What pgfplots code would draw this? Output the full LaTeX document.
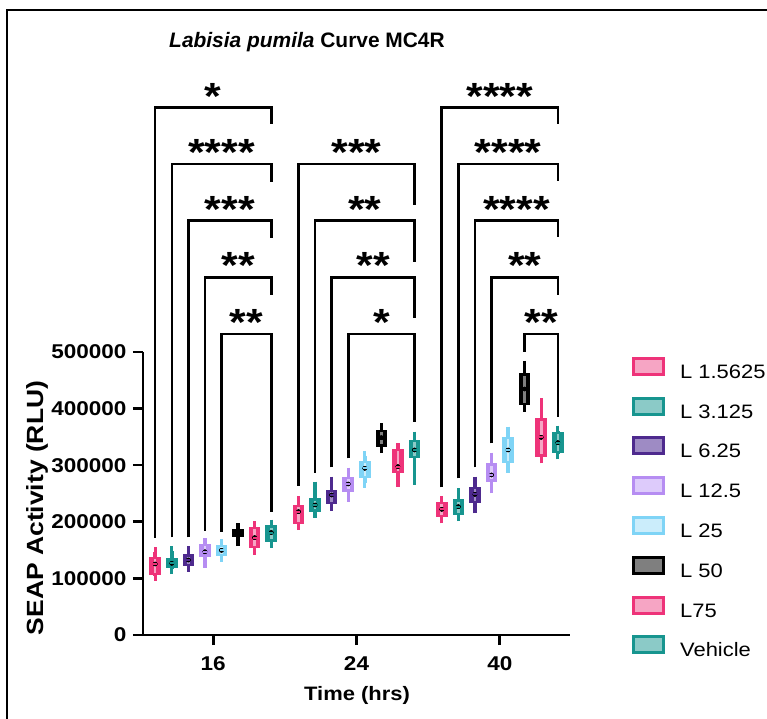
\documentclass[border=0pt]{standalone}
\usepackage{fontspec}
\setmainfont{Liberation Sans}[FakeStretch=1.13]
\newfontfamily\titlefont{Liberation Sans}
\usepackage{pgfplots}
\usepackage{pgfplotstable}
\pgfplotsset{compat=1.18}
\definecolor{pinkD}{HTML}{EE3379}
\definecolor{pinkL}{HTML}{F6A5C4}
\definecolor{tealD}{HTML}{17958F}
\definecolor{tealL}{HTML}{8BCAC7}
\definecolor{purpD}{HTML}{4E2A8E}
\definecolor{purpL}{HTML}{9E8BC4}
\definecolor{lilaD}{HTML}{B68DF2}
\definecolor{lilaL}{HTML}{DDCBFB}
\definecolor{bluD}{HTML}{7FD4F6}
\definecolor{bluL}{HTML}{CBEDFB}
\definecolor{blkD}{HTML}{000000}
\definecolor{blkL}{HTML}{7F7F7F}
% SEAP activity in thousands of RLU; x = group (0:16 h, 1:24 h, 2:40 h) + offset
\pgfplotstableread{
x lw q1 med q3 uw
-0.405 104.5 106.0 125.4 138.4 146.0
0.595 194.0 195.5 217.9 229.7 236.7
1.595 206.0 207.9 222.0 235.6 237.0
}\tA
\pgfplotstableread{
x lw q1 med q3 uw
-0.289 116.6 117.8 126.6 135.5 148.4
0.711 216.0 217.9 229.7 241.5 262.0
1.711 210.0 212.0 226.7 239.7 250.3
}\tB
\pgfplotstableread{
x lw q1 med q3 uw
-0.1736 120.7 121.9 132.5 142.5 148.4
0.8264 228.0 231.4 247.3 256.2 270.9
1.8264 223.8 232.6 248.5 262.1 270.9
}\tC
\pgfplotstableread{
x lw q1 med q3 uw
-0.0579 127.8 138.4 147.0 160.8 162.0
0.9421 244.4 253.2 266.8 279.7 286.8
1.9421 259.1 270.9 282.7 303.3 313.3
}\tD
\pgfplotstableread{
x lw q1 med q3 uw
0.0579 138.0 139.6 149.6 159.0 160.0
1.0579 269.1 276.8 294.5 307.4 316.3
2.0579 295.6 303.3 326.9 350.4 359.2
}\tE
\pgfplotstableread{
x lw q1 med q3 uw
0.1736 166.0 172.6 179.6 187.0 189.0
1.1736 330.0 332.7 348.6 362.2 365.0
2.1736 403.4 406.4 434.6 462.3 475.3
}\tF
\pgfplotstableread{
x lw q1 med q3 uw
0.289 151.0 153.0 172.0 191.0 192.0
1.289 270.9 285.6 297.4 328.6 330.0
2.289 312.0 315.0 349.2 382.8 409.3
}\tG
\pgfplotstableread{
x lw q1 med q3 uw
0.405 163.0 165.0 181.0 194.0 195.0
1.405 273.9 312.1 326.9 344.5 350.4
2.405 319.0 321.0 339.8 359.2 361.0
}\tH
\newcommand{\series}[3]{%
\addplot[forget plot, only marks, mark=none, error bars/.cd, y dir=both, y explicit,
  error bar style={line width=3.4bp, draw=#2},
  error mark options={line width=3.2bp, draw=#2, mark size=5bp}]
  table[x=x, y=med, y error plus expr=\thisrow{uw}-\thisrow{med}, y error minus expr=\thisrow{med}-\thisrow{lw}] {#1};
\addplot[forget plot, only marks, mark=none, error bars/.cd, y dir=both, y explicit,
  error bar style={line width=11.5bp, draw=#2}, error mark=none]
  table[x=x, y=med, y error plus expr=\thisrow{q3}-\thisrow{med}, y error minus expr=\thisrow{med}-\thisrow{q1}] {#1};
\addplot[forget plot, only marks, mark=none, error bars/.cd, y dir=both, y explicit,
  error bar style={line width=2.6bp, draw=#3}, error mark=none]
  table[x=x, y=med, y error plus expr=\thisrow{q3}-\thisrow{med}-4.2, y error minus expr=\thisrow{med}-\thisrow{q1}-4.2] {#1};
\addplot[forget plot, only marks, mark=-, mark size=2bp, mark options={draw=#2, line width=2bp}]
  table[x=x, y=med] {#1};
}
\newcommand{\stars}[3]{\node[font=\fontsize{38}{40}\selectfont\bfseries, anchor=base, inner sep=0pt] at (axis cs:#1,#2) {#3};}
\begin{document}
\begin{tikzpicture}
\useasboundingbox (0bp,0bp) rectangle (767bp,719bp);
\draw[line width=2bp] (7bp,0bp) -- (7bp,709bp) -- (767bp,709bp);
\node[font=\titlefont\fontsize{21}{23}\selectfont\bfseries, anchor=base] at (307bp,671bp) {\textit{Labisia pumila} Curve MC4R};
\node[font=\fontsize{23.5}{26}\selectfont\bfseries, anchor=base, rotate=90] at (43bp,211bp) {SEAP Activity (RLU)};
\node[font=\fontsize{19.5}{22}\selectfont\bfseries, anchor=base] at (357bp,19bp) {Time (hrs)};
\begin{axis}[at={(143bp,84bp)}, anchor=south west, scale only axis, width=427bp, height=566bp,
  xmin=-0.49, xmax=2.49, ymin=0, ymax=1000, clip=false,
  axis line style={draw=none}, xtick pos=bottom, ytick pos=left, tick align=outside,
  major tick length=10bp, tick style={line width=2.6bp, black},
  xtick={0,1,2}, xticklabels={16,24,40},
  ytick={0,100,200,300,400,500},
  yticklabels={0,100000,200000,300000,400000,500000},
  ticklabel style={font=\fontsize{20}{22}\selectfont\bfseries},
  xticklabel style={yshift=-8bp},
  yticklabel style={xshift=-3bp},
  legend style={draw=none, fill=none, at={(axis description cs:1.145,0.492)}, anchor=north west,
    font=\fontsize{19.5}{22}\selectfont, row sep=14.3bp, inner sep=0pt,
    nodes={inner sep=0pt, text height=14bp, text depth=4bp},
    /tikz/every odd column/.append style={column sep=15bp}},
  legend cell align=left,
  legend image code/.code={\draw[#1, line width=3bp] (0bp,-1bp) rectangle (30bp,15bp);},
]
\addplot[forget plot, black, line width=2.6bp, mark=none] coordinates {(-0.49,500) (-0.49,0) (2.49,0)};
\series{\tA}{pinkD}{pinkL}
\series{\tB}{tealD}{tealL}
\series{\tC}{purpD}{purpL}
\series{\tD}{lilaD}{lilaL}
\series{\tE}{bluD}{bluL}
\series{\tF}{blkD}{blkL}
\series{\tG}{pinkD}{pinkL}
\series{\tH}{tealD}{tealL}
% significance brackets 16 h
\addplot[forget plot, black, line width=2.6bp, mark=none] coordinates {(-0.405,171.4) (-0.405,931.6) (0.405,931.6) (0.405,902.3)};
\addplot[forget plot, black, line width=2.6bp, mark=none] coordinates {(-0.289,172.6) (-0.289,832.2) (0.405,832.2) (0.405,800.9)};
\addplot[forget plot, black, line width=2.6bp, mark=none] coordinates {(-0.1736,172.6) (-0.1736,732.0) (0.405,732.0) (0.405,701.4)};
\addplot[forget plot, black, line width=2.6bp, mark=none] coordinates {(-0.0579,184.3) (-0.0579,632.0) (0.405,632.0) (0.405,600.7)};
\addplot[forget plot, black, line width=2.6bp, mark=none] coordinates {(0.0579,182.5) (0.0579,531.8) (0.405,531.8) (0.405,217.8)};
% 24 h
\addplot[forget plot, black, line width=2.6bp, mark=none] coordinates {(0.595,263.8) (0.595,832.2) (1.405,832.2) (1.405,759.7)};
\addplot[forget plot, black, line width=2.6bp, mark=none] coordinates {(0.711,286.8) (0.711,732.0) (1.405,732.0) (1.405,659.5)};
\addplot[forget plot, black, line width=2.6bp, mark=none] coordinates {(0.8264,296.3) (0.8264,632.0) (1.405,632.0) (1.405,559.5)};
\addplot[forget plot, black, line width=2.6bp, mark=none] coordinates {(0.9421,312.2) (0.9421,531.8) (1.405,531.8) (1.405,376.9)};
% 40 h
\addplot[forget plot, black, line width=2.6bp, mark=none] coordinates {(1.595,261.0) (1.595,931.6) (2.405,931.6) (2.405,902.3)};
\addplot[forget plot, black, line width=2.6bp, mark=none] coordinates {(1.711,276.9) (1.711,832.2) (2.405,832.2) (2.405,802.7)};
\addplot[forget plot, black, line width=2.6bp, mark=none] coordinates {(1.8264,296.3) (1.8264,732.0) (2.405,732.0) (2.405,702.7)};
\addplot[forget plot, black, line width=2.6bp, mark=none] coordinates {(1.9421,338.7) (1.9421,632.0) (2.405,632.0) (2.405,600.7)};
\addplot[forget plot, black, line width=2.6bp, mark=none] coordinates {(2.1736,500.5) (2.1736,531.8) (2.405,531.8) (2.405,384.6)};
\stars{0}{929.0}{*}
\stars{0.058}{829.6}{****}
\stars{0.1157}{729.4}{***}
\stars{0.1736}{629.4}{**}
\stars{0.2315}{529.2}{**}
\stars{1.0}{829.6}{***}
\stars{1.058}{729.4}{**}
\stars{1.1157}{629.4}{**}
\stars{1.1736}{529.2}{*}
\stars{2.0}{929.0}{****}
\stars{2.058}{829.6}{****}
\stars{2.1157}{729.4}{****}
\stars{2.1736}{629.4}{**}
\stars{2.2893}{529.2}{**}
% legend
\addlegendimage{draw=pinkD, fill=pinkL}\addlegendentry{L 1.5625}
\addlegendimage{draw=tealD, fill=tealL}\addlegendentry{L 3.125}
\addlegendimage{draw=purpD, fill=purpL}\addlegendentry{L 6.25}
\addlegendimage{draw=lilaD, fill=lilaL}\addlegendentry{L 12.5}
\addlegendimage{draw=bluD, fill=bluL}\addlegendentry{L 25}
\addlegendimage{draw=blkD, fill=blkL}\addlegendentry{L 50}
\addlegendimage{draw=pinkD, fill=pinkL}\addlegendentry{L75}
\addlegendimage{draw=tealD, fill=tealL}\addlegendentry{Vehicle}
\end{axis}
\end{tikzpicture}
\end{document}
